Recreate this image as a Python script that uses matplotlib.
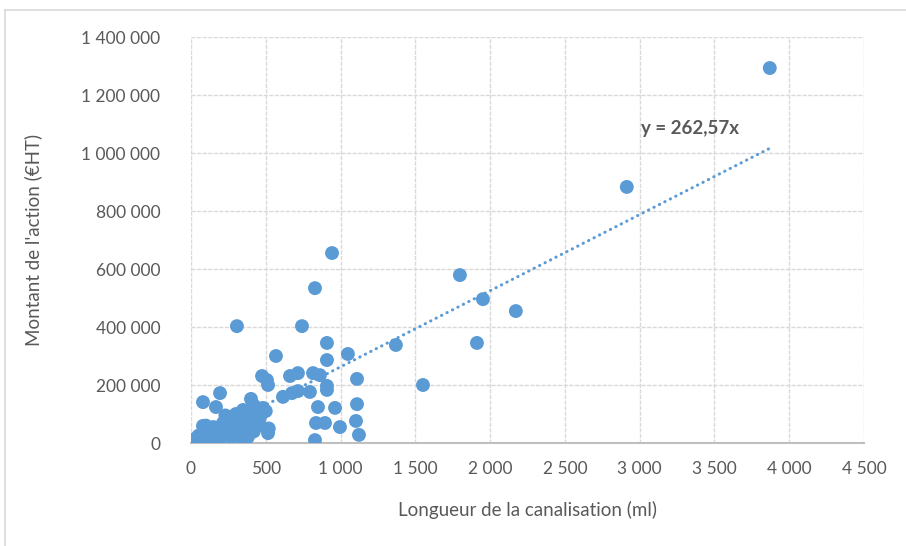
import matplotlib
matplotlib.use("Agg")
import matplotlib.pyplot as plt
from matplotlib.ticker import FuncFormatter
from matplotlib.lines import Line2D

# Data
longueur_ml = [
    3870, 2914, 1798, 1952, 2172, 1912, 1370, 1551, 943, 829, 742, 307, 1049, 909, 909, 568,
    909, 909, 1110, 1110, 1103, 1123, 829, 836, 896, 996, 849, 963, 662, 715, 816, 862,
    475, 508, 515, 615, 675, 715, 795, 194, 80, 167, 401, 481, 348, 281, 461, 80, 214,
    414, 461, 13, 60, 127, 241, 328, 348, 515, 0, 194, 174,
    30, 50, 100, 110, 140, 150, 180, 200, 220, 230, 250, 260, 280, 290, 300, 310, 330,
    350, 360, 380, 390, 420, 440, 500, 520, 270, 120, 380, 300, 420, 230, 100,
]
montant_eur = [
    1293000, 883000, 579000, 496000, 455000, 345000, 338000, 200000, 655000, 534000, 403000,
    403000, 307000, 345000, 286000, 300000, 197000, 183000, 221000, 134000, 76000, 28000,
    10000, 69000, 69000, 55000, 124000, 121000, 231000, 241000, 241000, 234000, 231000,
    217000, 200000, 159000, 172000, 179000, 176000, 172000, 141000, 124000, 152000, 121000,
    114000, 90000, 90000, 59000, 69000, 86000, 62000, 7000, 17000, 34000, 45000, 28000,
    3000, 34000, 10000, 10000, 17000,
    15000, 25000, 20000, 45000, 30000, 55000, 40000, 50000, 30000, 70000, 60000, 85000,
    50000, 75000, 100000, 60000, 80000, 95000, 50000, 70000, 110000, 40000, 105000,
    110000, 50000, 20000, 5000, 20000, 40000, 130000, 95000, 60000,
]
slope = 262.57
trend_x = [0, 3870]
x_ticks = [0, 500, 1000, 1500, 2000, 2500, 3000, 3500, 4000, 4500]
y_ticks = [0, 200000, 400000, 600000, 800000, 1000000, 1200000, 1400000]

FONT = ["Lato", "DejaVu Sans"]
plt.rcParams["font.family"] = FONT

W, H = 906, 546
fig = plt.figure(figsize=(W / 100, H / 100), dpi=100)
ax = fig.add_axes([191 / W, (H - 443) / H, (864 - 191) / W, (443 - 37) / H])

blue = "#5B9BD5"
grid_c = "#D9D9D9"
txt_c = "#595959"

# trendline
ty = [slope * v for v in trend_x]
ax.plot(trend_x, ty, color=blue, lw=2.2, linestyle=(0, (0.1, 1.9)),
        dash_capstyle="round", zorder=2)

ax.scatter(longueur_ml, montant_eur, s=100, color=blue, edgecolors="none", zorder=3)

ax.set_xlim(0, 4500)
ax.set_ylim(0, 1400000)
ax.set_xticks(x_ticks)
ax.set_yticks(y_ticks)

def fmt_space(v, pos=None):
    return f"{int(round(v)):,}".replace(",", " ")

ax.xaxis.set_major_formatter(FuncFormatter(fmt_space))
ax.yaxis.set_major_formatter(FuncFormatter(fmt_space))

ax.grid(True, color=grid_c, lw=1.0, linestyle=(0, (3, 1)))
ax.set_axisbelow(True)
for side in ["top", "right", "left"]:
    ax.spines[side].set_visible(False)
ax.spines["bottom"].set_color("#BFBFBF")
ax.spines["bottom"].set_linewidth(1.5)
ax.tick_params(axis="both", length=0, labelsize=12.5, colors=txt_c)
ax.tick_params(axis="x", pad=13)
ax.tick_params(axis="y", pad=22)

ax.set_xlabel("Longueur de la canalisation (ml)", fontsize=13.5, color=txt_c, labelpad=17)
ax.set_ylabel("Montant de l'action (€HT)", fontsize=13.5, color=txt_c, labelpad=28)

ax.text(3335, 1086000, "y = 262,57x", fontsize=13.5, fontweight="bold",
        color=txt_c, ha="center", va="center", zorder=4)

# chart frame border
fig.add_artist(Line2D([5 / W, 5 / W], [0, (H - 10) / H], color=grid_c, lw=1.2,
                      transform=fig.transFigure))
fig.add_artist(Line2D([5 / W, 1], [(H - 10) / H, (H - 10) / H], color=grid_c, lw=1.2,
                      transform=fig.transFigure))

fig.savefig("out.png", dpi=100)
